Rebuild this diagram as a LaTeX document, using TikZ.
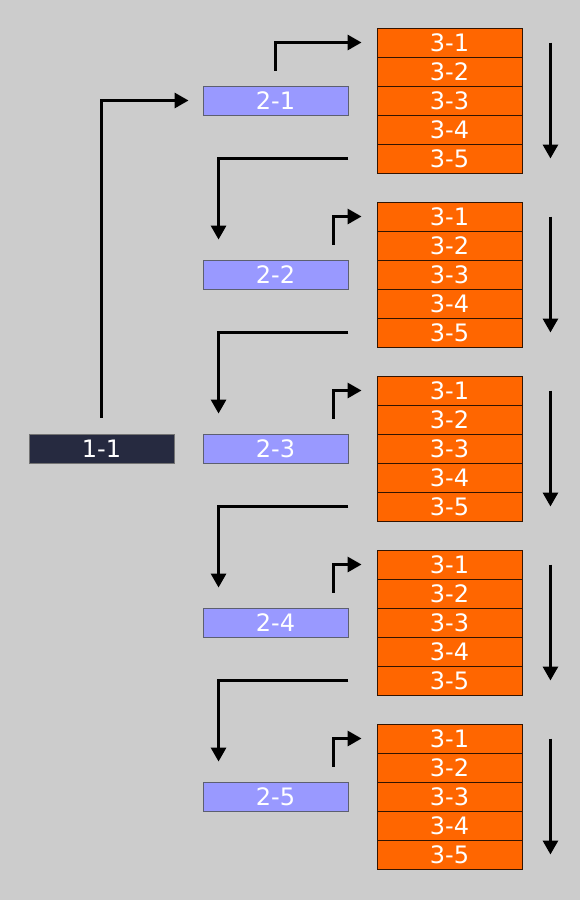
\documentclass[tikz,border=0pt]{standalone}
\usepackage{fontspec}
\setmainfont{DejaVu Sans}
\usetikzlibrary{arrows.meta}
\definecolor{PanelGray}{HTML}{CCCCCC}
\definecolor{TopNavy}{HTML}{262A40}
\definecolor{MidBlue}{HTML}{9999FF}
\definecolor{LeafOrange}{HTML}{FF6600}
\definecolor{Ink}{HTML}{000000}

\begin{document}
\begin{tikzpicture}[x=1pt,y=-1pt,
  box/.style={line width=0.9pt,inner sep=0pt,minimum width=145pt,minimum height=29pt,text=white,font=\fontsize{24}{24}\selectfont},
  topbox/.style={box,draw=black!55,fill=TopNavy},
  midbox/.style={box,draw=TopNavy!75,fill=MidBlue},
  leaf/.style={box,draw=black!80!LeafOrange,fill=LeafOrange},
  arr/.style={-{Triangle[length=14pt,width=15pt]},line width=3pt,draw=Ink}
]
\fill[PanelGray] (0,0) rectangle (580,900);
\node[topbox] (n11) at (101.5,448.5) {1-1};
% one 2-x box and its column of 3-x cells per group
\foreach \g/\y in {1/0,2/174,3/348,4/522,5/696} {
  \node[midbox] (n2\g) at (275.5,100.5+\y) {2-\g};
  \foreach \c in {1,...,5}
    \node[leaf] (c\g\c) at (449.5,13.5+\y+29*\c) {3-\c};
  \draw[arr] ([xshift=28pt]c\g1.east) -- ([xshift=28pt]c\g5.east);
}

\draw[arr] ([yshift=16pt]n11.north) |- ([xshift=-14pt]n21.west);
\draw[arr] ([yshift=15pt]n21.north) |- ([xshift=-15pt]c11.west);
\foreach \g in {2,...,5}
  \draw[arr] ([xshift=-15pt,yshift=15pt]n2\g.north east) |- ([xshift=-15pt]c\g1.west);
\foreach \g/\h in {1/2,2/3,3/4,4/5}
  \draw[arr] (n2\g.east |- c\g5.center) -| ([xshift=16pt,yshift=20pt]n2\h.north west);
\end{tikzpicture}
\end{document}
